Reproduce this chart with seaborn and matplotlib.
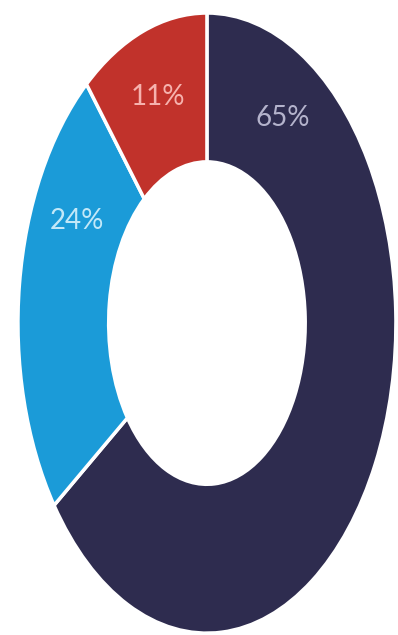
import matplotlib
matplotlib.use("Agg")
import matplotlib.pyplot as plt
import seaborn as sns

# Data
categories = ["A", "B", "C"]
shares = [65, 24, 11]
labels = ["65%", "24%", "11%"]

# Styles / positions (not data)
colors = ["#2e2c4f", "#1b9bd8", "#c1322b"]
text_colors = ["#b4b3cc", "#c2e8f8", "#f6b2ae"]
label_pos = [(0.40, 0.66), (-0.69, 0.33), (-0.26, 0.73)]

sns.set_theme(style="white")
plt.rcParams["font.family"] = ["Lato", "DejaVu Sans"]

fig = plt.figure(figsize=(3.98, 6.35), dpi=100)
ax = fig.add_axes([0, 0, 1, 1])
ax.pie(shares, colors=colors, startangle=90, counterclock=False,
       wedgeprops=dict(width=0.48, edgecolor="white", linewidth=2.5))
ax.set_aspect("auto")
ax.set_xlim(-1.095, 1.011)
ax.set_ylim(-1.006, 1.042)
ax.axis("off")

for lab, (x, y), c in zip(labels, label_pos, text_colors):
    ax.text(x, y, lab, color=c, fontsize=20, ha="center", va="center",
            fontweight="normal")

fig.savefig("out.png", dpi=100, facecolor="white")
